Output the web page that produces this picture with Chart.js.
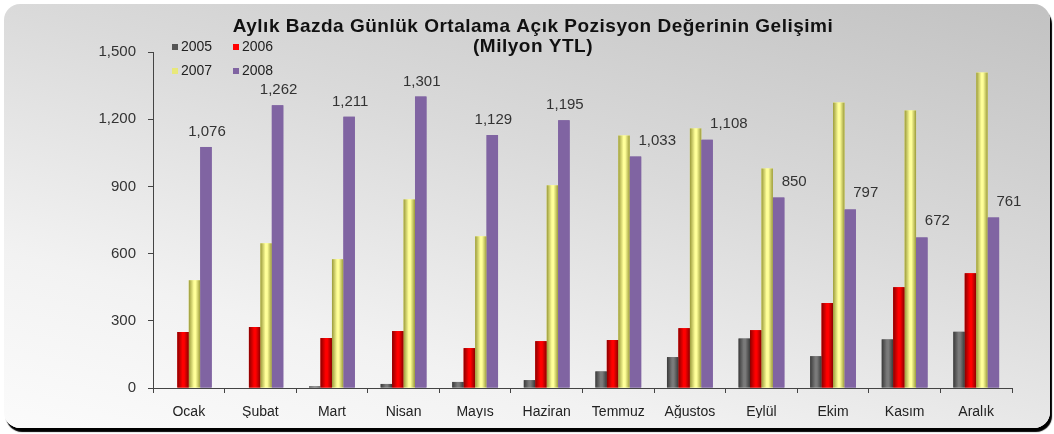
<!DOCTYPE html>
<html>
<head>
<meta charset="utf-8">
<script src="https://cdn.jsdelivr.net/npm/chart.js@4.4.1/dist/chart.umd.min.js"></script>
<style>
  html, body { margin: 0; padding: 0; background: #fff; }
  #box {
    position: absolute; left: 4px; top: 4px; width: 1046px; height: 424px;
    border-radius: 16px;
    background: linear-gradient(195deg, #c2c2c2 0%, #dadada 40%, #f2f2f2 75%, #fbfbfb 100%);
    box-shadow: 2px 4px 1px #000;
  }
  #wrap { position: absolute; left: 0; top: 0; width: 1054px; height: 434px; }
</style>
</head>
<body>
<div id="box"></div>
<div id="wrap"><canvas id="chart" width="1054" height="434"></canvas></div>
<script>
var months = ['Ocak', 'Şubat', 'Mart', 'Nisan', 'Mayıs', 'Haziran', 'Temmuz', 'Ağustos', 'Eylül', 'Ekim', 'Kasım', 'Aralık']
var years = ['2005', '2006', '2007', '2008']
var values2005 = [0, 0, 7, 18, 27, 35, 74, 138, 221, 142, 217, 251]
var values2006 = [250, 272, 223, 254, 178, 209, 214, 267, 258, 379, 450, 512]
var values2007 = [481, 646, 575, 842, 677, 905, 1127, 1159, 980, 1274, 1239, 1408]
var values2008 = [1076, 1262, 1211, 1301, 1129, 1195, 1033, 1108, 850, 797, 672, 761]
var yTicks = [0, 300, 600, 900, 1200, 1500]

// colours: [edge, middle]
var barColors = [
  ['#3a3a3a', '#7a7a7a'],
  ['#8a0000', '#ff0000'],
  ['#9a9a3a', '#ffff99'],
  ['#8064a2', '#8064a2']
]

function fmt(v) {
  return v.toString().replace(/\B(?=(\d{3})+(?!\d))/g, ',')
}

var textFont = '"Liberation Sans", Arial, sans-serif'

// shaded bars drawn over the library's own bar elements
var shadePlugin = {
  id: 'shade',
  afterDatasetsDraw: function(chart) {
    var c = chart.ctx
    chart.data.datasets.forEach(function(ds, di) {
      var meta = chart.getDatasetMeta(di)
      meta.data.forEach(function(bar) {
        var w = bar.width, x0 = bar.x - w / 2
        var top = Math.min(bar.y, bar.base), h = Math.abs(bar.base - bar.y)
        if (h < 0.5) return
        var g = c.createLinearGradient(x0, 0, x0 + w, 0)
        var col = barColors[di]
        g.addColorStop(0, col[0])
        g.addColorStop(0.45, col[1])
        g.addColorStop(0.6, col[1])
        g.addColorStop(1, col[0])
        c.save()
        c.fillStyle = g
        c.fillRect(x0, top, w, h)
        c.restore()
      })
    })
  }
}

// value labels on 2008 bars
var labelPlugin = {
  id: 'labels2008',
  afterDatasetsDraw: function(chart) {
    var c = chart.ctx
    var meta = chart.getDatasetMeta(3)
    c.save()
    c.font = '15px ' + textFont
    c.fillStyle = '#333'
    c.textBaseline = 'alphabetic'
    meta.data.forEach(function(bar, i) {
      var v = values2008[i]
      if (values2007[i] > v) {
        c.textAlign = 'left'
        c.fillText(fmt(v), bar.x + 3, bar.y - 12)
      } else {
        c.textAlign = 'center'
        c.fillText(fmt(v), bar.x + 1, bar.y - 11)
      }
    })
    c.restore()
  }
}

// title and 2x2 legend
var headPlugin = {
  id: 'head',
  afterDraw: function(chart) {
    var c = chart.ctx
    c.save()
    c.fillStyle = '#111'
    c.textAlign = 'center'
    c.textBaseline = 'middle'
    c.font = 'bold 19px ' + textFont
    c.letterSpacing = '0.5px'
    c.fillText('Aylık Bazda Günlük Ortalama Açık Pozisyon Değerinin Gelişimi', 533, 27)
    c.fillText('(Milyon YTL)', 533, 47)
    c.letterSpacing = '0px'
    c.font = '14px ' + textFont
    c.textAlign = 'left'
    var pos = [[172, 47], [233, 47], [172, 71], [233, 71]]
    years.forEach(function(y, i) {
      c.fillStyle = barColors[i][1]
      if (i === 0) c.fillStyle = '#555'
      if (i === 2) c.fillStyle = '#e8e87a'
      c.fillRect(pos[i][0], pos[i][1] - 3, 6, 6)
      c.fillStyle = '#222'
      c.fillText(y, pos[i][0] + 9, pos[i][1])
    })
    c.restore()
  }
}

var ctx = document.getElementById('chart').getContext('2d')
var chart = new Chart(ctx, {
  type: 'bar',
  data: {
    labels: months,
    datasets: [
      { label: years[0], data: values2005, backgroundColor: barColors[0][1] },
      { label: years[1], data: values2006, backgroundColor: barColors[1][1] },
      { label: years[2], data: values2007, backgroundColor: barColors[2][1] },
      { label: years[3], data: values2008, backgroundColor: barColors[3][1] }
    ]
  },
  options: {
    animation: false,
    responsive: false,
    categoryPercentage: 0.64,
    barPercentage: 1,
    layout: { padding: { left: 82, right: 42, top: 52, bottom: 16 } },
    plugins: {
      legend: { display: false },
      title: { display: false },
      tooltip: { enabled: false }
    },
    scales: {
      x: {
        afterFit: function(s) { s.height = 30 },
        border: { color: '#444', width: 1 },
        grid: { drawOnChartArea: false, tickLength: 5, color: '#444', offset: true },
        ticks: { color: '#222', font: { family: textFont, size: 14 }, padding: 11 }
      },
      y: {
        min: 0,
        max: 1500,
        afterFit: function(s) { s.width = 71 },
        afterBuildTicks: function(s) { s.ticks = yTicks.map(function(v) { return { value: v } }) },
        border: { color: '#444', width: 1 },
        grid: { drawOnChartArea: false, tickLength: 5, color: '#444' },
        ticks: {
          color: '#333',
          font: { family: textFont, size: 15 },
          padding: 12,
          callback: function(v) { return fmt(v) }
        }
      }
    }
  },
  plugins: [shadePlugin, labelPlugin, headPlugin]
})
</script>
</body>
</html>
